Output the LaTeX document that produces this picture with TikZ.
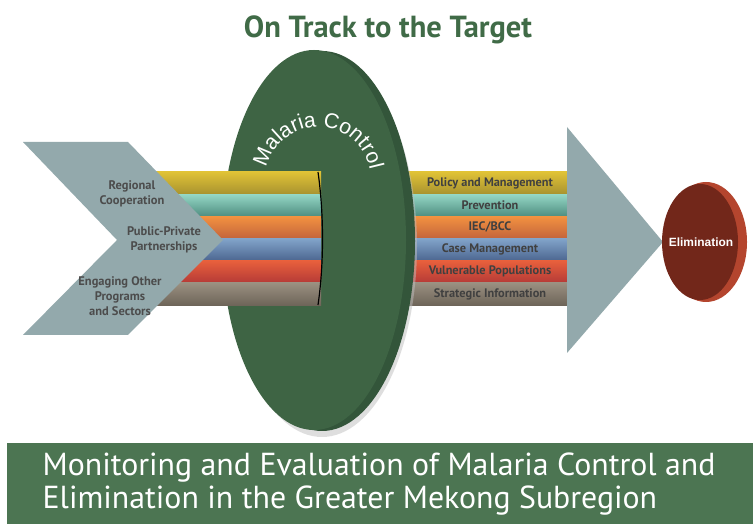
\documentclass[tikz,border=0pt]{standalone}
\usepackage{fontspec}
\setmainfont{PT Sans}
\newfontfamily\helv{Liberation Sans}
\usetikzlibrary{decorations.text}
\definecolor{titlegreen}{HTML}{406B47}
\definecolor{diskgreen}{HTML}{3E6444}
\definecolor{diskrim}{HTML}{33553A}
\definecolor{bannergreen}{HTML}{4C7552}
\definecolor{arrowgrey}{HTML}{93A9AC}
\definecolor{elimred}{HTML}{72271A}
\definecolor{elimrim}{HTML}{B4452E}
\definecolor{yA}{HTML}{E0C236}\definecolor{yB}{HTML}{A89330}
\definecolor{tA}{HTML}{95D8C6}\definecolor{tB}{HTML}{4F8D80}
\definecolor{oA}{HTML}{F39240}\definecolor{oB}{HTML}{C3643C}
\definecolor{bA}{HTML}{82A4CA}\definecolor{bB}{HTML}{4C6690}
\definecolor{rA}{HTML}{E8603C}\definecolor{rB}{HTML}{B53A37}
\definecolor{gA}{HTML}{9A9081}\definecolor{gB}{HTML}{6E6559}
\tikzset{
        title/.style={font=\bfseries\fontsize{23}{25}\selectfont, text=titlegreen},
        stripe/.style={top color=#1A, bottom color=#1B, draw=none},
        band/.style={font=\bfseries\fontsize{9.3}{10}\selectfont, text=black!75},
        inlabel/.style={font=\bfseries\fontsize{9.4}{11.5}\selectfont, text=black!70, align=center},
        arrowpart/.style={fill=arrowgrey, draw=none},
        goal/.style={font=\helv\bfseries\fontsize{9}{10}\selectfont, text=white},
        banner/.style={font=\fontsize{24}{25}\selectfont, text=white, align=left, anchor=north west}
          }
\begin{document}
\begin{tikzpicture}[x=0.0265cm, y=0.0265cm]
        \useasboundingbox[fill=white] (0,0) rectangle (753,524);
        \node[title] (title) at (388,494) {On Track to the Target};
        \foreach \c/\txt [count=\i from 0] in {y/Policy and Management, t/Prevention, o/{IEC/BCC},
            b/Case Management, r/Vulnerable Populations, g/Strategic Information}{
          \fill[stripe=\c] (400,352-22.17*\i) rectangle (567,329.83-22.17*\i);
          \node[band] (band\i) at (490,340.9-22.17*\i) {\txt};
        }
        \fill[black!25, opacity=0.5] (322,278) ellipse [x radius=95, y radius=191];
        \fill[diskrim] (322,283) ellipse [x radius=93, y radius=190];
        \fill[diskgreen] (314,284) ellipse [x radius=92, y radius=190];
        \path[decorate, decoration={text along path, text align=center,
            text={|\helv\fontsize{16}{16}\selectfont\color{white}|Malaria Control}}]
          (318,344) ++(180:53) arc[start angle=180, end angle=-2, radius=53];
        \foreach \c [count=\i from 0] in {y,t,o,b,r,g}
          \fill[stripe=\c] (150,352-22.17*\i) rectangle (321,329.83-22.17*\i);
        \draw[black, line width=0.9pt] (318,352) .. controls (324,310) and (324,260) .. (318,219);
        \fill[arrowpart] (23,382) -- (128,382) -- (223,284) -- (128,189) -- (23,189) -- (117,284) -- cycle;
        \node[inlabel] (regional) at (132,330) {Regional\\Cooperation};
        \node[inlabel] (ppp) at (164,284) {Public-Private\\Partnerships};
        \node[inlabel] (engaging) at (120,228) {Engaging Other\\Programs\\and Sectors};
        \fill[arrowpart] (567,397) -- (663,282) -- (567,171) -- cycle;
        \fill[elimrim] (706,282) ellipse [x radius=41, y radius=60];
        \fill[elimred] (700,282) ellipse [x radius=38, y radius=58];
        \node[goal] (elim) at (701,282) {Elimination};
        \fill[bannergreen] (7,0) rectangle (753,81);
        \node[banner] (me) at (38,76) {Monitoring and Evaluation of Malaria Control and\\Elimination in the Greater Mekong Subregion};
\end{tikzpicture}
\end{document}
